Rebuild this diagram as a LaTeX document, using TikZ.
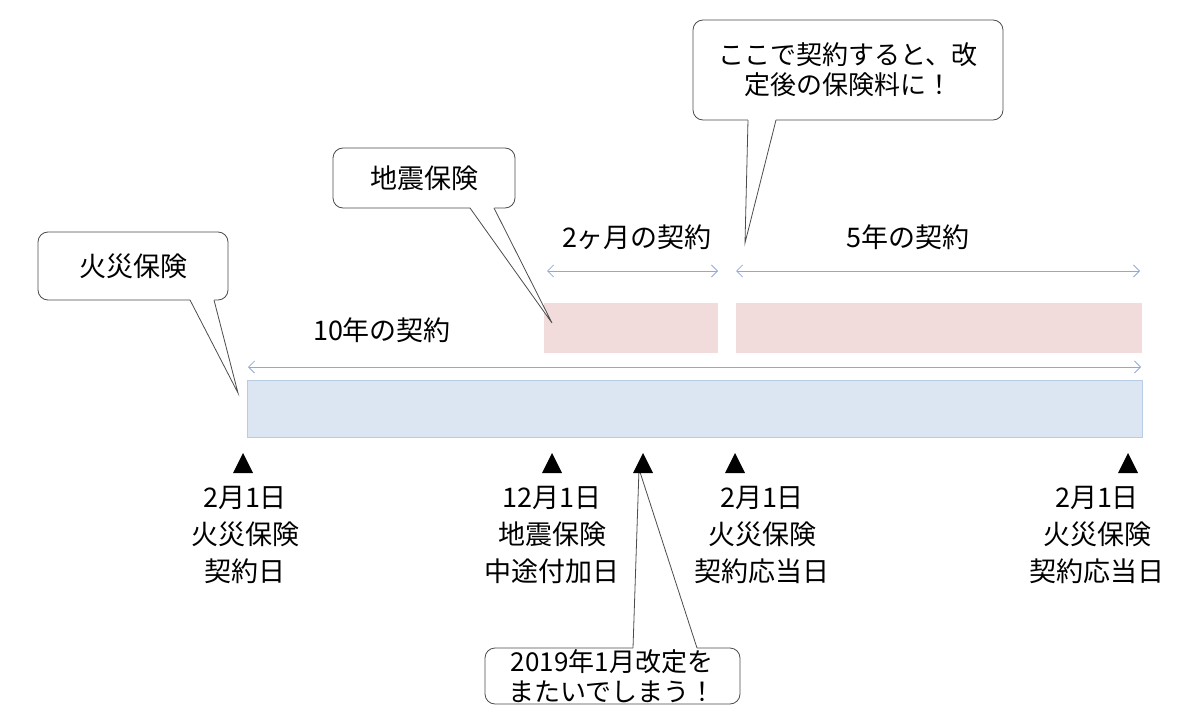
\documentclass[tikz,border=0pt]{standalone}
\usepackage{fontspec}
\setmainfont{Noto Sans CJK JP}
\usetikzlibrary{arrows.meta}
\definecolor{arr}{HTML}{8EAADB}
\definecolor{bluef}{HTML}{DCE6F2}
\definecolor{blued}{HTML}{B8CCE4}
\definecolor{pinkf}{HTML}{F2DCDB}
\tikzset{
 x=1pt,y=-1pt,
 txt/.style={font=\fontsize{27}{37}\selectfont,align=center,inner sep=0pt},
 tight/.style={font=\fontsize{26}{30}\selectfont},
 box/.style={draw=black!70,line width=0.8pt,rounded corners=10pt,fill=white},
 dim/.style={arr,line width=0.8pt,{Straight Barb[length=6pt,width=12pt]}-{Straight Barb[length=6pt,width=12pt]}},
 tri/.style={fill=black,draw=none},
}
\begin{document}
\begin{tikzpicture}
\useasboundingbox (0,0) rectangle (1200,717);
% bars
\fill[bluef,draw=blued,line width=1pt] (247,380) rectangle (1142,437);
\fill[pinkf] (544,303) rectangle (718,353);
\fill[pinkf] (736,303) rectangle (1142,353);
% dimension arrows
\coordinate (a1) at (248,367); \coordinate (a2) at (1141,367);
\coordinate (b1) at (547,271); \coordinate (b2) at (718,271);
\coordinate (c1) at (736,271); \coordinate (c2) at (1140,271);
\draw[dim] (a1) -- (a2);
\draw[dim] (b1) -- (b2);
\draw[dim] (c1) -- (c2);
\node[txt] (t10) at (382,330) {10年の契約};
\node[txt] (t2m) at (637,237) {2ヶ月の契約};
\node[txt] (t5) at (908,237) {5年の契約};
% callouts
\draw[box] (38,232) rectangle (228,300);
\coordinate (k1t) at (238,393);
\fill[white] (190,299) -- (214,299) -- (k1t) -- cycle;
\draw[black!70,line width=0.8pt] (190,300) -- (k1t) -- (214,300);
\node[txt] (k1) at (133,266) {火災保険};

\draw[box] (333,148) rectangle (515,208);
\coordinate (k2t) at (552,323);
\fill[white] (470,207) -- (494,207) -- (k2t) -- cycle;
\draw[black!70,line width=0.8pt] (470,208) -- (k2t) -- (494,208);
\node[txt] (k2) at (424,178) {地震保険};

\draw[box] (693,20) rectangle (1003,120);
\coordinate (k3t) at (745,243);
\fill[white] (748,119) -- (776,119) -- (k3t) -- cycle;
\draw[black!70,line width=0.8pt] (748,120) -- (k3t) -- (776,120);
\node[txt,tight] (k3) at (848,70) {ここで契約すると、改\\定後の保険料に！};

\draw[box] (485,648) rectangle (740,704);
\coordinate (k4t) at (639,469);
\fill[white] (633,649) -- (697,649) -- (k4t) -- cycle;
\draw[black!70,line width=0.8pt] (633,648) -- (k4t) -- (697,648);
\node[txt,tight] (k4) at (612,676) {2019年1月改定を\\またいでしまう！};

% triangles
\foreach \n/\x in {p1/243,p2/552,p3/643,p4/735,p5/1128}{
  \fill[tri] (\x-10,473) -- (\x+10,473) -- (\x,453) -- cycle;
  \coordinate (\n) at (\x,463);
}
\node[txt] (l1) at (245,535) {2月1日\\火災保険\\契約日};
\node[txt] (l2) at (552,535) {\hfill12月1日\\地震保険\\中途付加日};
\node[txt] (l3) at (762,535) {2月1日\\火災保険\\契約応当日};
\node[txt] (l4) at (1097,535) {2月1日\\火災保険\\契約応当日};
\end{tikzpicture}
\end{document}
